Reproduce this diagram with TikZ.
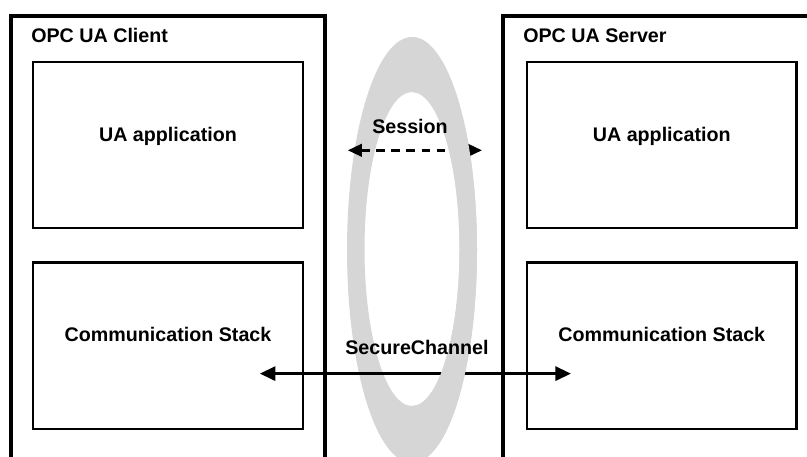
\documentclass[tikz,border=0pt]{standalone}
\usepackage{fontspec}
\setmainfont{Liberation Sans}
\usetikzlibrary{positioning, arrows.meta, calc}
\definecolor{ringcolor}{RGB}{214, 214, 214}

\begin{document}
\begin{tikzpicture}[
    x=0.025cm, y=-0.025cm,
    node distance=0.8cm and 5.55cm,
    outerbox/.style={rectangle, draw, line width=2.4pt, minimum width=7.85cm, minimum height=11.85cm, inner sep=0pt},
    box/.style={rectangle, draw, line width=1.6pt, minimum width=6.735cm, minimum height=4.15cm, inner sep=0pt},
    txt/.style={font=\fontsize{14pt}{16pt}\selectfont\bfseries, inner sep=0pt, anchor=base},
    title/.style={txt, anchor=base west},
    arrow/.style={{Triangle[length=11pt,width=10pt]}-{Triangle[length=11pt,width=10pt]}, line width=1.8pt},
    dashedarrow/.style={{Triangle[length=10pt,width=9pt]}-{Triangle[length=10pt,width=9pt]}, line width=1.7pt, dash pattern=on 6pt off 4.7pt},
]
\useasboundingbox (0,0) rectangle (807,456);
\clip (0,0) rectangle (807,456);

% ============ Client / Server ============
\node[outerbox] (client) at (168,253) {};
\node[outerbox, minimum width=7.925cm] (server) at (661.5,253) {};
\node[title] (client_title) at (31,42) {OPC UA Client};
\node[title] (server_title) at (523,42) {OPC UA Server};

\node[box] (capp) at (168,145.3) {};
\node[box, below=of capp] (ccomm) {};
\node[box, right=of capp] (sapp) {};
\node[box, below=of sapp] (scomm) {};

\node[txt] (capp_text) at ($(capp.center)+(0,-4)$) {UA application};
\node[txt] (ccomm_text) at ($(ccomm.center)+(0,-4)$) {Communication Stack};
\node[txt] (sapp_text) at ($(sapp.center)+(0,-4)$) {UA application};
\node[txt] (scomm_text) at ($(scomm.center)+(0,-4)$) {Communication Stack};

% ============ Ring ============
\fill[ringcolor, even odd rule] (412,250) ellipse [x radius=65, y radius=213]
      (412,249) ellipse [x radius=47.5, y radius=157];

% ============ Arrows ============
\coordinate (sess_l) at ($(capp.east)+(44,5)$);
\coordinate (sess_r) at ($(sapp.west)+(-44,5)$);
\coordinate (sc_l) at ($(ccomm.east)+(-44,28)$);
\coordinate (sc_r) at ($(scomm.west)+(45,28)$);

\draw[dashedarrow] (sess_l) -- (sess_r);
\draw[arrow] (sc_l) -- (sc_r);

% right side of the ring in front of the arrows
\begin{scope}
    \clip (412,0) rectangle (807,456);
    \fill[ringcolor, even odd rule] (412,250) ellipse [x radius=65, y radius=213]
          (412,249) ellipse [x radius=47.5, y radius=157];
\end{scope}

\node[txt] (session) at (410,133) {Session};
\node[txt] (secure) at (417,354) {SecureChannel};

\end{tikzpicture}
\end{document}
